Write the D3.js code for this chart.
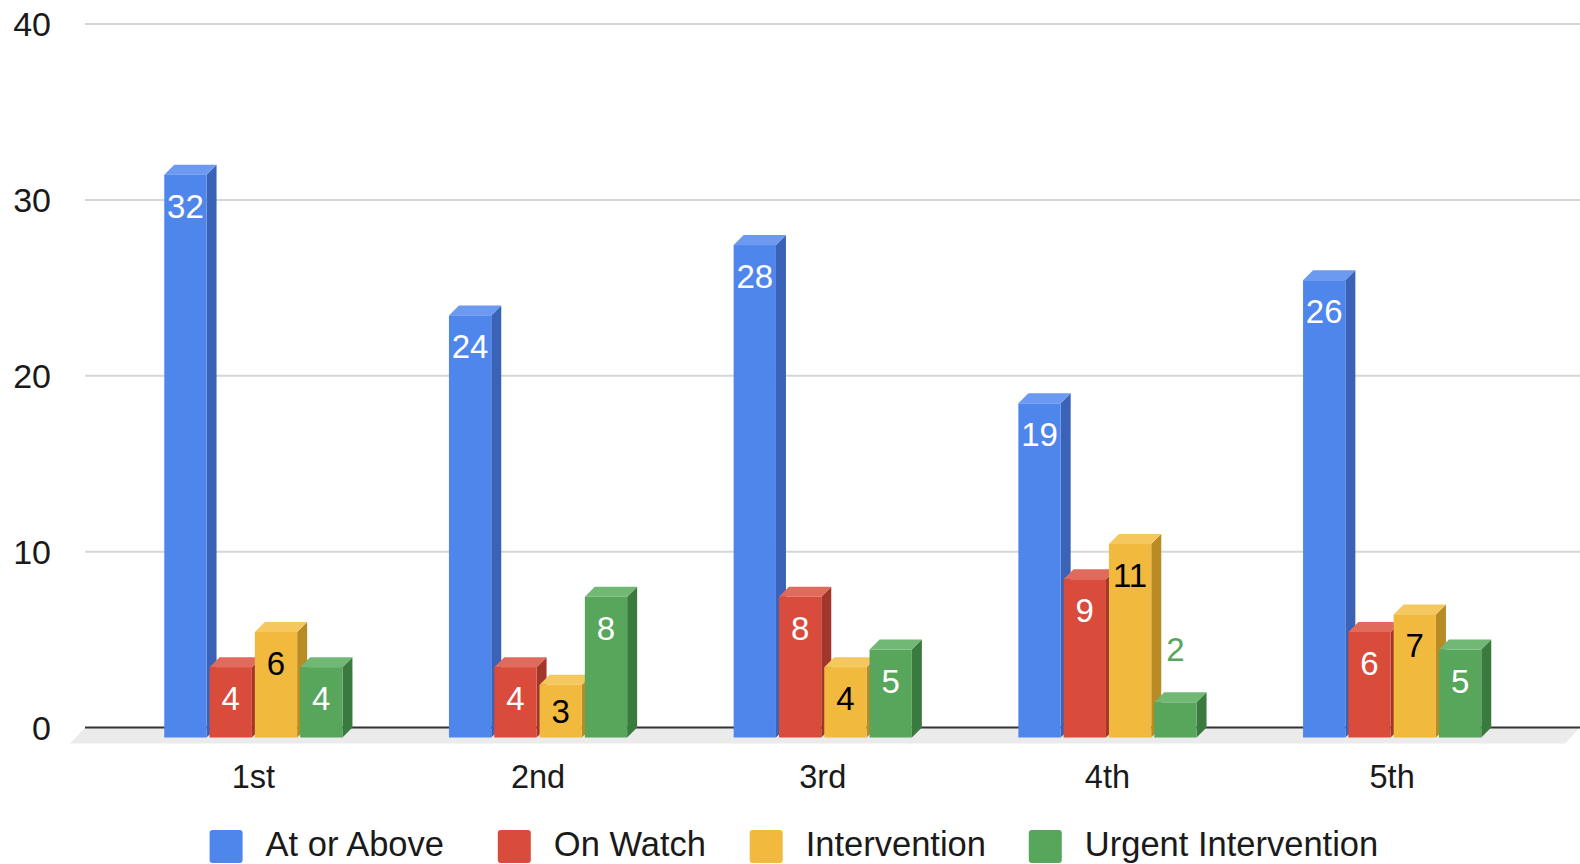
<!DOCTYPE html>
<html>
<head>
<meta charset="utf-8">
<script src="https://cdn.jsdelivr.net/npm/d3@7"></script>
<style>
  html, body { margin: 0; padding: 0; background: #fff; }
  svg { display: block; font-family: "Liberation Sans", Arial, Helvetica, sans-serif; }
</style>
</head>
<body>
<svg id="chart" width="1580" height="864"></svg>
<script>
// ---- data ----
const categories = ["1st", "2nd", "3rd", "4th", "5th"];
const seriesNames = ["At or Above", "On Watch", "Intervention", "Urgent Intervention"];
const atOrAbove = [32, 24, 28, 19, 26];
const onWatch = [4, 4, 8, 9, 6];
const intervention = [6, 3, 4, 11, 7];
const urgentIntervention = [4, 8, 5, 2, 5];
const yTicks = [0, 10, 20, 30, 40];

const seriesValues = [atOrAbove, onWatch, intervention, urgentIntervention];
const colors = [
  { front: "#4f86ec", side: "#3a62b6", top: "#6b9af0", label: "#ffffff" },
  { front: "#d94b3b", side: "#a3362a", top: "#e06a5c", label: "#ffffff" },
  { front: "#f1b93e", side: "#b98b25", top: "#f5c75f", label: "#000000" },
  { front: "#57a65b", side: "#3b7a3f", top: "#71b874", label: "#ffffff" }
];

const svg = d3.select("#chart");
const W = 1580;
const depthX = 10, depthY = 10;   // 3D offset: front face is shifted left/down

const y = d3.scaleLinear().domain([0, 40]).range([727.5, 24]);
const x0 = d3.scaleBand().domain(categories).range([121, 1544.5]).padding(0);
const groupW = 178.2;
const xi = d3.scaleBand().domain(seriesNames).range([0, groupW]).paddingInner(0.066).paddingOuter(0);
const groupOffset = (x0.bandwidth() - groupW) / 2;

// ---- floor ----
const floorDX = 15, floorDY = 16;
svg.append("path")
  .attr("d", `M85,${y(0)} L${W},${y(0)} L${W - floorDX},${y(0) + floorDY} L${85 - floorDX},${y(0) + floorDY} Z`)
  .attr("fill", "#ebebeb");

// ---- gridlines ----
svg.append("g").selectAll("line").data(yTicks.filter(d => d !== 0)).join("line")
  .attr("x1", 85).attr("x2", W)
  .attr("y1", d => y(d)).attr("y2", d => y(d))
  .attr("stroke", "#d6d6d6").attr("stroke-width", 2);
svg.append("line")
  .attr("x1", 85).attr("x2", W).attr("y1", y(0)).attr("y2", y(0))
  .attr("stroke", "#333").attr("stroke-width", 2.2);

// ---- y axis labels ----
svg.append("g").selectAll("text").data(yTicks).join("text")
  .attr("x", 51).attr("y", d => y(d)).attr("dy", "0.36em")
  .attr("text-anchor", "end").attr("font-size", 34).attr("fill", "#1a1a1a")
  .text(d => d);

// ---- bars ----
const bars = [];
categories.forEach((c, ci) => {
  seriesNames.forEach((s, si) => {
    bars.push({ cat: c, series: s, si, value: seriesValues[si][ci] });
  });
});

const barG = svg.append("g");
bars.forEach(b => {
  const bx = x0(b.cat) + groupOffset + xi(b.series);   // back-plane left
  const bw = xi.bandwidth();
  const yTop = y(b.value), yBot = y(0);
  const fx = bx - depthX;          // front-face left
  const fyTop = yTop + depthY, fyBot = yBot + depthY;
  const col = colors[b.si];
  const g = barG.append("g");
  g.append("path")
    .attr("d", `M${fx + bw},${fyTop} L${bx + bw},${yTop} L${bx + bw},${yBot} L${fx + bw},${fyBot} Z`)
    .attr("fill", col.side);
  g.append("path")
    .attr("d", `M${fx},${fyTop} L${bx},${yTop} L${bx + bw},${yTop} L${fx + bw},${fyTop} Z`)
    .attr("fill", col.top);
  g.append("rect")
    .attr("x", fx).attr("y", fyTop).attr("width", bw).attr("height", fyBot - fyTop)
    .attr("fill", col.front);
  b.fx = fx; b.bw = bw; b.fyTop = fyTop; b.fyBot = fyBot; b.yTop = yTop;
});

// ---- value labels ----
const labG = svg.append("g");
bars.forEach(b => {
  const h = b.fyBot - b.fyTop;
  const inside = h >= 45;
  const ty = inside ? Math.min(b.fyTop + 43, b.fyBot - 15) : b.yTop - 31;
  labG.append("text")
    .attr("x", b.fx + b.bw / 2).attr("y", ty)
    .attr("text-anchor", "middle").attr("font-size", 33)
    .attr("fill", inside ? colors[b.si].label : colors[b.si].front)
    .text(b.value);
});

// ---- x labels ----
svg.append("g").selectAll("text").data(categories).join("text")
  .attr("x", d => x0(d) + x0.bandwidth() / 2 - depthX)
  .attr("y", 788)
  .attr("text-anchor", "middle").attr("font-size", 32.5).attr("fill", "#1a1a1a")
  .text(d => d);

// ---- legend ----
const legendX = [209.6, 497.8, 749.7, 1028.8];
const legend = svg.append("g");
seriesNames.forEach((s, i) => {
  const g = legend.append("g").attr("transform", `translate(${legendX[i]},0)`);
  g.append("rect").attr("x", 0).attr("y", 830).attr("width", 33).attr("height", 33)
    .attr("rx", 3).attr("fill", colors[i].front);
  g.append("text").attr("x", 56).attr("y", 856)
    .attr("font-size", 34.5).attr("fill", "#1a1a1a").text(s);
});
</script>
</body>
</html>
